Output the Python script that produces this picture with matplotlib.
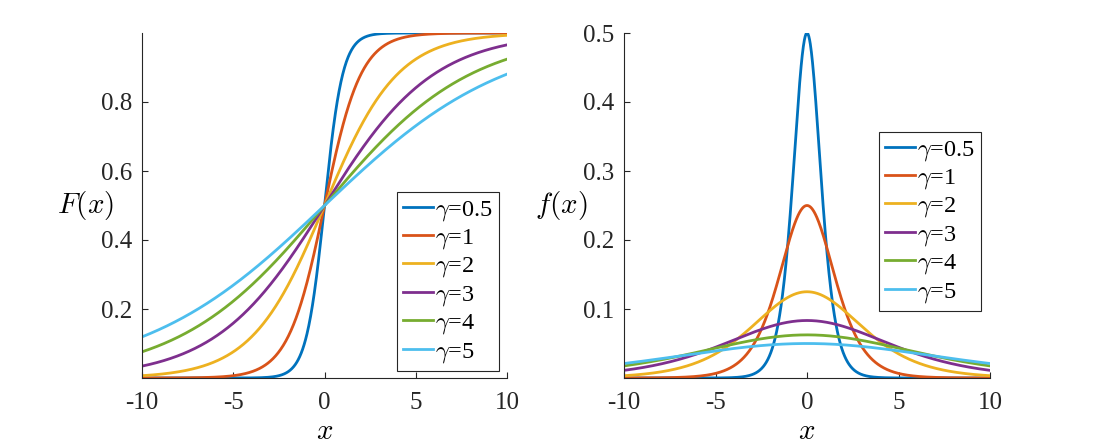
import numpy as np
import matplotlib
matplotlib.use("Agg")
import matplotlib.pyplot as plt

# Data: scale parameters of the logistic distribution
gammas = [0.5, 1, 2, 3, 4, 5]
labels = [r"$\gamma$=0.5", r"$\gamma$=1", r"$\gamma$=2", r"$\gamma$=3", r"$\gamma$=4", r"$\gamma$=5"]
colors = ["#0072BD", "#D95319", "#EDB120", "#7E2F8E", "#77AC30", "#4DBEEE"]
x_ticks = [-10, -5, 0, 5, 10]
x_tick_labels = ["-10", "-5", "0", "5", "10"]
cdf_ticks = [0.2, 0.4, 0.6, 0.8]
pdf_ticks = [0.1, 0.2, 0.3, 0.4, 0.5]

plt.rcParams["font.family"] = ["Liberation Serif", "DejaVu Serif"]
plt.rcParams["mathtext.fontset"] = "cm"
FS = 18

x = np.linspace(-10, 10, 1001)

fig = plt.figure(figsize=(10.94, 4.48), dpi=100)
W, H = 1094, 448
ax1 = fig.add_axes([142 / W, 1 - 378 / H, 365 / W, 345 / H])
ax2 = fig.add_axes([624 / W, 1 - 378 / H, 366 / W, 345 / H])

for g, c, lab in zip(gammas, colors, labels):
    z = np.exp(-x / g)
    F = 1 / (1 + z)
    f = z / (g * (1 + z) ** 2)
    ax1.plot(x, F, color=c, lw=2, label=lab)
    ax2.plot(x, f, color=c, lw=2, label=lab)

for ax in (ax1, ax2):
    ax.set_xlim(-10, 10)
    ax.set_xticks(x_ticks)
    ax.set_xticklabels(x_tick_labels)
    ax.spines["top"].set_visible(False)
    ax.spines["right"].set_visible(False)
    ax.tick_params(axis="x", pad=10)
    ax.tick_params(axis="y", pad=7)
    ax.tick_params(direction="in", length=4, width=0.8, colors="#262626", labelsize=FS)
    for s in ("left", "bottom"):
        ax.spines[s].set_color("#262626")
        ax.spines[s].set_linewidth(0.8)
    ax.set_xlabel("$x$", fontsize=21, labelpad=4)

ax1.set_ylim(0, 1)
ax1.set_yticks(cdf_ticks)
ax1.set_yticklabels([f"{v:g}" for v in cdf_ticks])
ax2.set_ylim(0, 0.5)
ax2.set_yticks(pdf_ticks)
ax2.set_yticklabels([f"{v:g}" for v in pdf_ticks])

ax1.set_ylabel("$F(x)$", fontsize=21, rotation=0, labelpad=0, ha="center", va="center")
ax1.yaxis.set_label_coords((86 - 142) / 365, (378 - 205) / 345)
ax2.set_ylabel("$f(x)$", fontsize=21, rotation=0, labelpad=0, ha="center", va="center")
ax2.yaxis.set_label_coords((561 - 624) / 366, (378 - 205) / 345)

leg_kw = dict(frameon=True, fancybox=False, edgecolor="#262626", framealpha=1,
              handlelength=1.25, handletextpad=0.06, borderpad=0.25, labelspacing=0.16,
              fontsize=17.5, borderaxespad=0)
l1 = ax1.legend(loc="upper left", bbox_to_anchor=((397 - 142) / 365, (378 - 192) / 345), **leg_kw)
l2 = ax2.legend(loc="upper left", bbox_to_anchor=((879 - 624) / 366, (378 - 132) / 345), **leg_kw)
for l in (l1, l2):
    l.get_frame().set_linewidth(0.8)

fig.savefig("out.png", dpi=100)
